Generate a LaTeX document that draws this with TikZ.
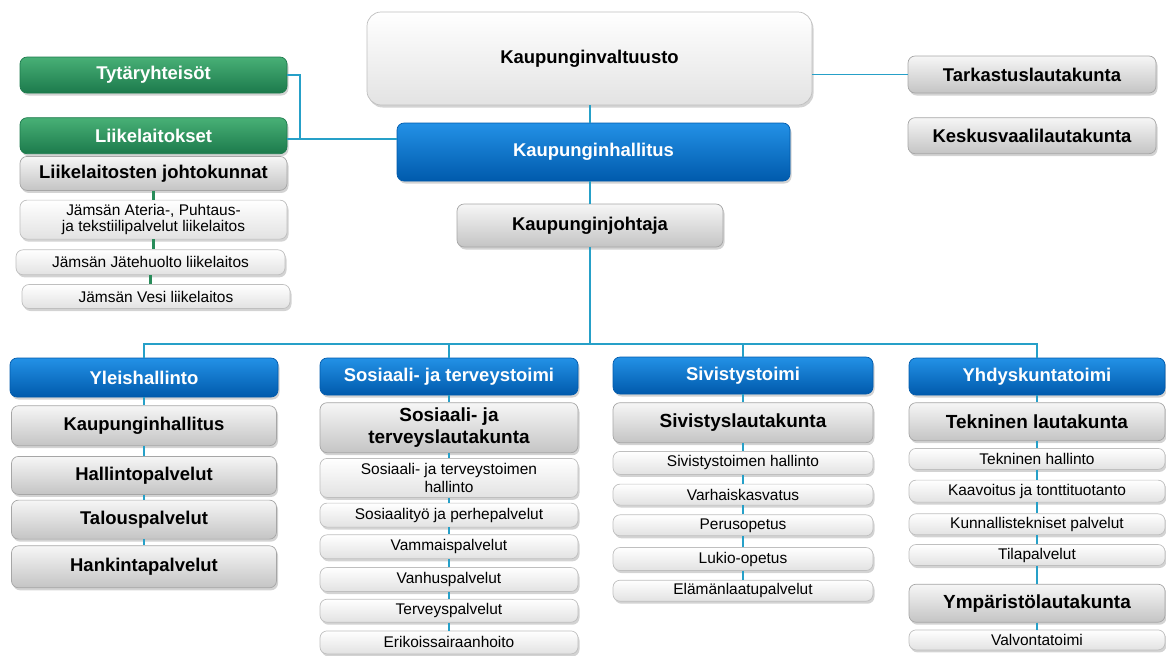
\documentclass[tikz,border=0pt]{standalone}
\usepackage{fontspec}
\setmainfont{Liberation Sans}
\usepackage{tikz}
\usetikzlibrary{positioning, calc, shadows}

\definecolor{linkblue}{RGB}{38,160,200}
\definecolor{linkgreen}{RGB}{40,140,90}
\definecolor{headtop}{RGB}{35,145,230}
\definecolor{headbot}{RGB}{0,90,172}
\definecolor{greentop}{RGB}{72,176,118}
\definecolor{greenbot}{RGB}{28,122,76}
\definecolor{graytop}{RGB}{246,246,246}
\definecolor{graybot}{RGB}{196,196,196}
\definecolor{itemtop}{RGB}{255,255,255}
\definecolor{itembot}{RGB}{226,226,226}

\begin{document}
\begin{tikzpicture}[
    node distance=0.16cm,
    base/.style={rectangle, rounded corners=4pt, draw=gray!70, inner sep=1pt, align=center,
        drop shadow={opacity=0.35, shadow xshift=0.03cm, shadow yshift=-0.05cm}},
    headbox/.style={base, draw=headbot, top color=headtop, bottom color=headbot, text=white, font=\bfseries\fontsize{10.5}{12}\selectfont},
    greenbox/.style={base, draw=greenbot, top color=greentop, bottom color=greenbot, text=white, font=\bfseries\fontsize{10.5}{12}\selectfont},
    boardbox/.style={base, top color=graytop, bottom color=graybot, font=\bfseries\fontsize{10.5}{12}\selectfont},
    bigboard/.style={boardbox, font=\bfseries\fontsize{10.8}{12.5}\selectfont},
    itembox/.style={base, draw=gray!50, top color=itemtop, bottom color=itembot, font=\fontsize{8.8}{10}\selectfont},
    link/.style={linkblue, line width=1pt},
    greenlink/.style={linkgreen, line width=1.8pt},
]
\useasboundingbox (0,0) rectangle (23.32,-13.1);

% Council, board and mayor
\node[boardbox, rounded corners=8pt, draw=gray!50, top color=white, bottom color=gray!22, minimum width=8.9cm, minimum height=1.86cm] (valtuusto) at (11.79,-1.17) {Kaupunginvaltuusto};
\node[headbox, minimum width=7.86cm, minimum height=1.16cm] (hallitus) at (11.87,-3.04) {Kaupunginhallitus};
\node[boardbox, minimum width=5.32cm, minimum height=0.86cm] (johtaja) at (11.8,-4.51) {Kaupunginjohtaja};

% Committees on the right
\node[boardbox, minimum width=4.96cm, minimum height=0.74cm] (tarkastus) at (20.64,-1.49) {Tarkastuslautakunta};
\node[boardbox, minimum width=4.96cm, minimum height=0.72cm, below=0.48cm of tarkastus] (keskus) {Keskusvaalilautakunta};

% Subsidiaries and municipal enterprises
\node[greenbox, minimum width=5.34cm, minimum height=0.72cm] (tytar) at (3.07,-1.5) {Tytäryhteisöt};
\node[greenbox, minimum width=5.34cm, minimum height=0.72cm, below=0.48cm of tytar] (liike) {Liikelaitokset};
\node[boardbox, minimum width=5.34cm, minimum height=0.68cm, below=0.04cm of liike] (johtokunnat) {Liikelaitosten johtokunnat};
\node[itembox, minimum width=5.34cm, minimum height=0.78cm, below=0.18cm of johtokunnat, font=\fontsize{8.8}{9}\selectfont] (ateria) {Jämsän Ateria-, Puhtaus-\\ja tekstiilipalvelut liikelaitos};
\node[itembox, minimum width=5.38cm, minimum height=0.5cm, below=0.2cm of ateria, xshift=-0.06cm] (jate) {Jämsän Jätehuolto liikelaitos};
\node[itembox, minimum width=5.36cm, minimum height=0.48cm, below=0.18cm of jate, xshift=0.11cm] (vesi) {Jämsän Vesi liikelaitos};

% Sector headers
\node[headbox, minimum width=5.36cm, minimum height=0.78cm] (yleis) at (2.88,-7.55) {Yleishallinto};
\node[headbox, minimum width=5.16cm, minimum height=0.74cm] (sostoimi) at (8.98,-7.53) {Sosiaali- ja terveystoimi};
\node[headbox, minimum width=5.2cm, minimum height=0.74cm] (sivtoimi) at (14.86,-7.51) {Sivistystoimi};
\node[headbox, minimum width=5.12cm, minimum height=0.74cm] (yhdys) at (20.74,-7.53) {Yhdyskuntatoimi};

% Yleishallinto
\node[boardbox, minimum width=5.3cm, minimum height=0.8cm, below=0.16cm of yleis] (kh) {Kaupunginhallitus};
\node[boardbox, minimum width=5.3cm, minimum height=0.76cm, below=0.2cm of kh] (hpalv) {Hallintopalvelut};
\node[boardbox, minimum width=5.3cm, minimum height=0.78cm, below=0.1cm of hpalv] (talous) {Talouspalvelut};
\node[boardbox, minimum width=5.3cm, minimum height=0.84cm, below=0.12cm of talous] (hankinta) {Hankintapalvelut};

% Sosiaali- ja terveystoimi
\node[bigboard, minimum width=5.16cm, minimum height=1.0cm, below=0.14cm of sostoimi] (stlauta) {Sosiaali- ja\\terveyslautakunta};
\node[itembox, minimum width=5.16cm, minimum height=0.78cm, below=0.1cm of stlauta] (sthall) {Sosiaali- ja terveystoimen\\hallinto};
\node[itembox, minimum width=5.16cm, minimum height=0.48cm, below=0.1cm of sthall] (sostyo) {Sosiaalityö ja perhepalvelut};
\node[itembox, minimum width=5.16cm, minimum height=0.48cm, below=0.14cm of sostyo] (vammais) {Vammaispalvelut};
\node[itembox, minimum width=5.16cm, minimum height=0.48cm, below=0.16cm of vammais] (vanhus) {Vanhuspalvelut};
\node[itembox, minimum width=5.16cm, minimum height=0.46cm, below=0.14cm of vanhus] (terveys) {Terveyspalvelut};
\node[itembox, minimum width=5.16cm, minimum height=0.46cm, below=0.16cm of terveys] (erikois) {Erikoissairaanhoito};

% Sivistystoimi
\node[bigboard, minimum width=5.2cm, minimum height=0.8cm, below=0.16cm of sivtoimi] (sivlauta) {Sivistyslautakunta};
\node[itembox, minimum width=5.2cm, minimum height=0.46cm, below=0.16cm of sivlauta] (sivhall) {Sivistystoimen hallinto};
\node[itembox, minimum width=5.2cm, minimum height=0.42cm, below=0.18cm of sivhall] (varhais) {Varhaiskasvatus};
\node[itembox, minimum width=5.2cm, minimum height=0.42cm, below=0.18cm of varhais] (perus) {Perusopetus};
\node[itembox, minimum width=5.2cm, minimum height=0.46cm, below=0.22cm of perus] (lukio) {Lukio-opetus};
\node[itembox, minimum width=5.2cm, minimum height=0.42cm, below=0.18cm of lukio] (elama) {Elämänlaatupalvelut};

% Yhdyskuntatoimi
\node[bigboard, minimum width=5.12cm, minimum height=0.76cm, below=0.14cm of yhdys] (teklauta) {Tekninen lautakunta};
\node[itembox, minimum width=5.12cm, minimum height=0.42cm, below=0.14cm of teklauta] (tekhall) {Tekninen hallinto};
\node[itembox, minimum width=5.12cm, minimum height=0.44cm, below=0.2cm of tekhall] (kaavoitus) {Kaavoitus ja tonttituotanto};
\node[itembox, minimum width=5.12cm, minimum height=0.42cm, below=0.22cm of kaavoitus] (kunnall) {Kunnallistekniset palvelut};
\node[itembox, minimum width=5.12cm, minimum height=0.42cm, below=0.18cm of kunnall] (tila) {Tilapalvelut};
\node[bigboard, minimum width=5.12cm, minimum height=0.76cm, below=0.36cm of tila] (ymplauta) {Ympäristölautakunta};
\node[itembox, minimum width=5.12cm, minimum height=0.4cm, below=0.14cm of ymplauta] (valvonta) {Valvontatoimi};

% Connectors
\draw[link] (johtaja.north |- valtuusto.south) -- (johtaja.north |- hallitus.north);
\draw[link] (johtaja.north |- hallitus.south) -- (johtaja.north);
\draw[link] (tarkastus.west) -- (tarkastus.west -| valtuusto.east);
\coordinate (brk) at (6.0,-2.78);
\draw[link] (tytar) -| (brk);
\draw[link] (liike.east |- brk) -- (brk -| hallitus.west);
\coordinate[below=1.94cm of johtaja] (bus);
\draw[link] (johtaja) -- (bus);
\foreach \h in {yleis, sostoimi, sivtoimi, yhdys}
    \draw[link] (bus) -| (\h);
\foreach \a/\b in {yleis/kh, kh/hpalv, hpalv/talous, talous/hankinta,
    sostoimi/stlauta, stlauta/sthall, sthall/sostyo, sostyo/vammais, vammais/vanhus, vanhus/terveys, terveys/erikois,
    sivtoimi/sivlauta, sivlauta/sivhall, sivhall/varhais, varhais/perus, perus/lukio, lukio/elama,
    yhdys/teklauta, teklauta/tekhall, tekhall/kaavoitus, kaavoitus/kunnall, kunnall/tila, tila/ymplauta, ymplauta/valvonta}
    \draw[link] (\a.south) -- (\b.north);
\foreach \a/\b in {johtokunnat/ateria, ateria/jate, jate/vesi}
    \draw[greenlink] (\a.south) -- (\a.south |- \b.north);

\end{tikzpicture}
\end{document}
